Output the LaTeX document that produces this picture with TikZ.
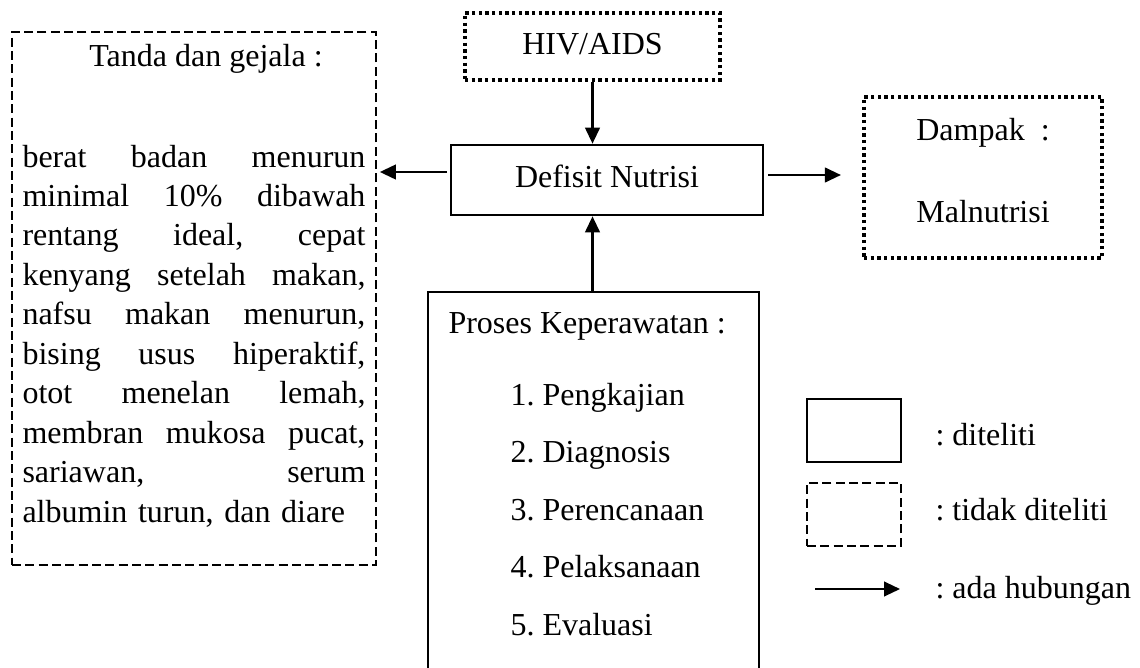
\documentclass[tikz,border=0pt]{standalone}
\usepackage{fontspec}
\setmainfont{Liberation Serif}
\usetikzlibrary{arrows.meta,fit,positioning}

\newlength\gejalaw
\setlength\gejalaw{128.6pt}
\newcommand{\jline}[1]{\makebox[\gejalaw][l]{#1}}

\tikzset{
  box/.style={draw,line width=1pt,inner sep=0pt},
  dashbox/.style={draw,line width=0.9pt,dash pattern=on 3.4pt off 1.6pt,inner sep=0pt},
  dotbox/.style={draw,line width=1.3pt,dash pattern=on 1.3pt off 1.2pt,inner sep=0pt},
  txt/.style={inner sep=0pt,anchor=base west},
  arr/.style={-{Triangle[length=6pt,width=5.5pt]},line width=0.8pt},
}

\begin{document}
\frenchspacing
\begin{tikzpicture}[x=0.375pt,y=-0.375pt,font=\fontsize{12pt}{14.8pt}\selectfont]
\useasboundingbox (0,0) rectangle (1140,667);
\clip (0,0) rectangle (1140,667);

\node[dashbox,fit={(12,32) (376,565)}] (tanda) {};
\node[dotbox,fit={(465,13) (720,80)}] (hiv) {};
\node[box,fit={(451,145) (763,215)}] (defisit) {};
\node[dotbox,fit={(864,97) (1102,258)}] (dampak) {};
\node[box,fit={(428,292) (759,720)}] (proses) {};
\node[box,fit={(807,399) (901,462)}] (diteliti) {};
\node[dashbox,fit={(807,483) (901,546)}] (tdkditeliti) {};
\coordinate (hub1) at (815,589);
\coordinate (hub2) at (900,589);

\node[txt,anchor=base] (ttanda) at (206,67) {Tanda dan gejala :};
\node[txt,text width=\gejalaw,align=left] (tgejala) at (22,167) {%
\jline{berat\hfill badan\hfill menurun}\\
\jline{minimal\hfill 10\%\hfill dibawah}\\
\jline{rentang\hfill ideal,\hfill cepat}\\
\jline{kenyang\hfill setelah\hfill makan,}\\
\jline{nafsu\hfill makan\hfill menurun,}\\
\jline{bising\hfill usus\hfill hiperaktif,}\\
\jline{otot\hfill menelan\hfill lemah,}\\
\jline{membran\hfill mukosa\hfill pucat,}\\
\jline{sariawan,\hfill serum}\\
\jline{albumin turun, dan diare\hfill}};
\node[txt,anchor=base] (thiv) at (hiv.center |- 0,55) {HIV/AIDS};
\node[txt,anchor=base] (tdefisit) at (defisit.center |- 0,187) {Defisit Nutrisi};
\node[txt,anchor=base] (tdampak) at (dampak.center |- 0,140) {Dampak\ \ :};
\node[txt,anchor=base] (tmal) at (dampak.center |- 0,222) {Malnutrisi};
\node[txt] (tproses) at (448,333) {Proses Keperawatan :};
\foreach \i/\t [count=\n from 0] in {1/Pengkajian,2/Diagnosis,3/Perencanaan,4/Pelaksanaan,5/Evaluasi}
  \node[txt] (p\i) at (510,405+57.5*\n) {\i. \t};
\node[txt] (ldit) at (935,445) {: diteliti};
\node[txt] (ltdk) at (935,520) {: tidak diteliti};
\node[txt] (lhub) at (935,598) {: ada hubungan};

\draw[arr] (hiv.south) -- (hiv.south |- defisit.north);
\draw[arr] (hiv.south |- proses.north) -- (hiv.south |- defisit.south);
\draw[arr] ([xshift=-1pt]defisit.west |- 0,172) -- ([xshift=1pt]tanda.east |- 0,172);
\draw[arr] ([xshift=1.5pt]defisit.east |- 0,175) -- ([xshift=-8pt]dampak.west |- 0,175);
\draw[arr] (hub1) -- (hub2);

\end{tikzpicture}
\end{document}
